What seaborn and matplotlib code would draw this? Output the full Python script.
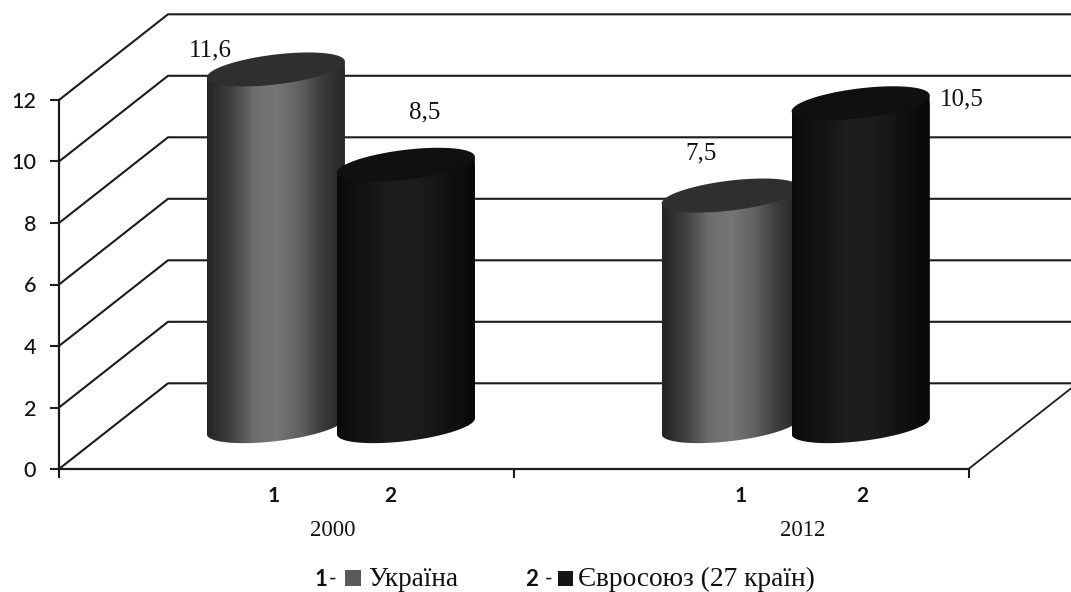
#!/usr/bin/env python3
"""
Cylinder chart: Ukraine vs EU (27 countries), 2000 and 2012.
"""

import matplotlib

matplotlib.use("Agg")

import matplotlib.pyplot as plt
import numpy as np
import pandas as pd
import seaborn as sns
from matplotlib.colors import LinearSegmentedColormap
from matplotlib.patches import Polygon, Rectangle

periods = ["2000", "2012"]
series = ["Україна", "Євросоюз"]
ukraine = [11.6, 7.5]
eu = [8.5, 10.5]
y_ticks = [0, 2, 4, 6, 8, 10, 12]

WIDTH, HEIGHT = 1071, 592
AX_LEFT, AX_RIGHT = 59, 968.5
AX_TOP, AX_BOTTOM = 100, 469
DEPTH_X, DEPTH_Y = 109, 85.7  # wall depth in pixels
BAR_YMIN = -1.2  # room under the floor line for the lower rim
SERIF = "Liberation Serif"
SANS = "Lato"

CMAP_UA = LinearSegmentedColormap.from_list(
    "ua", ["#242424", "#3e3e3e", "#6c6c6c", "#767676", "#626262", "#3c3c3c", "#262626"]
)
CMAP_EU = LinearSegmentedColormap.from_list(
    "eu", ["#0a0a0a", "#141414", "#1e1e1e", "#1c1c1c", "#121212", "#080808"]
)
CAP_UA = "#2f2f2f"
CAP_EU = "#101010"


def fig_text(fig, x, y, text, **kwargs):
    # place text by image pixels
    kwargs.setdefault("ha", "center")
    kwargs.setdefault("va", "center")
    kwargs.setdefault("color", "#111111")
    return fig.text(x / WIDTH, 1 - y / HEIGHT, text, **kwargs)


def make_axes(fig, dx=0.0, dy=0.0, ymin=0.0):
    px_y = (AX_BOTTOM - AX_TOP) / 12
    bottom = AX_BOTTOM - dy - ymin * px_y
    return fig.add_axes(
        [
            (AX_LEFT + dx) / WIDTH,
            1 - bottom / HEIGHT,
            (AX_RIGHT - AX_LEFT) / WIDTH,
            (bottom - (AX_TOP - dy)) / HEIGHT,
        ]
    )


def draw_wall(ax):
    px_x = (AX_RIGHT - AX_LEFT) / 2
    px_y = (AX_BOTTOM - AX_TOP) / 12
    dx, dy = DEPTH_X / px_x, DEPTH_Y / px_y
    for v in y_ticks:
        ax.plot(
            [-0.5, -0.5 + dx, 1.5 + dx],
            [v, v + dy, v + dy],
            color="#1c1c1c",
            lw=1.5,
            clip_on=False,
        )
    ax.plot([1.5, 1.5 + dx], [0, dy], color="#1c1c1c", lw=1.3, clip_on=False)


def draw_cylinders(ax, fig):
    px_y = (AX_BOTTOM - AX_TOP) / 12
    tilt = 8.0 / px_y
    minor = 15.0 / px_y
    t_full = np.linspace(0, 2 * np.pi, 120)
    t_low = np.linspace(np.pi, 0, 60)

    bars = sorted(ax.patches, key=lambda p: p.get_x())
    for i, bar in enumerate(bars):
        left, w, top = bar.get_x(), bar.get_width(), bar.get_height()
        mid = left + w / 2
        cmap = CMAP_UA if i % 2 == 0 else CMAP_EU
        cap = CAP_UA if i % 2 == 0 else CAP_EU

        # body outline: sloped lower rim, then straight up both sides
        low_x = mid + w / 2 * np.cos(t_low)
        low_y = tilt * np.cos(t_low) - minor * np.sin(t_low)
        outline = np.vstack(
            [[left, top - tilt], np.column_stack([low_x, low_y]), [left + w, top + tilt]]
        )
        body = Polygon(outline, closed=True, transform=ax.transData)

        z = 3 + i * 2
        bar.set_zorder(z)
        bar.set_linewidth(0)
        bar.set_clip_path(body)
        im = ax.imshow(
            np.linspace(0, 1, 256)[None, :],
            extent=(left, left + w, BAR_YMIN, top + 2),
            aspect="auto",
            cmap=cmap,
            zorder=z,
        )
        im.set_clip_box(fig.bbox)
        im.set_clip_path(body)

        # top cap
        cap_x = mid + w / 2 * np.cos(t_full)
        cap_y = top + tilt * np.cos(t_full) + minor * np.sin(t_full)
        ax.add_patch(
            Polygon(
                np.column_stack([cap_x, cap_y]),
                closed=True,
                facecolor=cap,
                edgecolor="none",
                zorder=z + 1,
                clip_on=False,
            )
        )
    ax.set_xlim(-0.5, 1.5)
    ax.set_ylim(BAR_YMIN, 12)
    return bars


def main() -> None:
    sns.set_theme(style="white")
    plt.rcParams["font.family"] = [SANS, "DejaVu Sans"]

    fig = plt.figure(figsize=(WIDTH / 100, HEIGHT / 100), dpi=100, facecolor="white")

    ax = make_axes(fig)
    ax.set_xlim(-0.5, 1.5)
    ax.set_ylim(0, 12)
    ax.set_xticks([-0.5, 0.5, 1.5])
    ax.set_xticklabels([])
    ax.set_yticks(y_ticks)
    ax.set_yticklabels([str(v) for v in y_ticks], fontsize=15.5, color="#111111", fontweight="medium")
    ax.tick_params(axis="both", length=6.5, width=1.5, color="#1c1c1c", left=True, bottom=True, pad=10)
    for side in ("top", "right"):
        ax.spines[side].set_visible(False)
    for side in ("left", "bottom"):
        ax.spines[side].set_color("#1c1c1c")
        ax.spines[side].set_linewidth(1.6)
    draw_wall(ax)

    # cylinders sit half the wall depth back from the front of the floor
    bar_ax = make_axes(fig, dx=DEPTH_X / 2, dy=DEPTH_Y / 2, ymin=BAR_YMIN)
    bar_ax.patch.set_alpha(0)
    df = pd.DataFrame(
        {
            "period": periods * 2,
            "series": [series[0]] * 2 + [series[1]] * 2,
            "value": ukraine + eu,
        }
    )
    sns.barplot(
        ax=bar_ax,
        data=df,
        x="period",
        y="value",
        hue="series",
        hue_order=series,
        palette=["#5a5a5a", "#141414"],
        width=0.5717,
        gap=-0.0615,
        legend=False,
    )
    bars = draw_cylinders(bar_ax, fig)
    bar_ax.axis("off")

    offsets = [(-66, 19), (19, 52), (-30, 42), (101, 4)]
    for bar, (ox, oy) in zip(bars, offsets):
        value = bar.get_height()
        bar_ax.annotate(
            f"{value:.1f}".replace(".", ","),
            xy=(bar.get_x() + bar.get_width() / 2, value),
            xytext=(ox, oy),
            textcoords="offset pixels",
            ha="center",
            va="center",
            family=SERIF,
            fontsize=18,
            color="#111111",
            zorder=20,
            annotation_clip=False,
        )

    for x, label in zip([274, 390, 741, 862], ["1", "2", "1", "2"]):
        fig_text(fig, x, 496, label, fontsize=15, fontweight="bold")
    for x, label in zip([333, 803], periods):
        fig_text(fig, x, 530, label, family=SERIF, fontsize=16.5)

    # legend
    fig_text(fig, 321, 579, "1", fontsize=16, fontweight="bold")
    fig_text(fig, 333, 579, "-", fontsize=15)
    fig.add_artist(
        Rectangle((345 / WIDTH, 1 - 586 / HEIGHT), 16 / WIDTH, 16 / HEIGHT,
                  transform=fig.transFigure, facecolor="#5a5a5a", edgecolor="none")
    )
    fig_text(fig, 368, 579.5, "Україна", ha="left", family=SERIF, fontsize=19.5)
    fig_text(fig, 532, 579, "2", fontsize=16, fontweight="bold")
    fig_text(fig, 549, 579, "-", fontsize=15)
    fig.add_artist(
        Rectangle((558 / WIDTH, 1 - 586 / HEIGHT), 15 / WIDTH, 15 / HEIGHT,
                  transform=fig.transFigure, facecolor="#141414", edgecolor="none")
    )
    fig_text(fig, 578, 579.5, "Євросоюз (27 країн)", ha="left", family=SERIF, fontsize=19.7)

    fig.savefig("out.png", dpi=100)


if __name__ == "__main__":
    main()
